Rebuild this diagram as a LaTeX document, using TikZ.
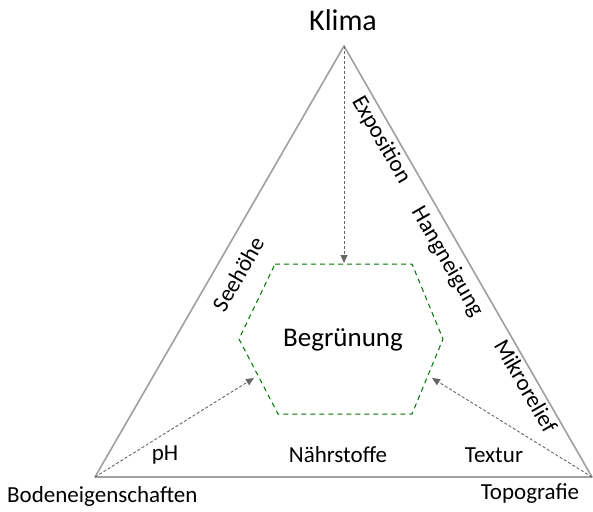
\documentclass[tikz,border=0pt]{standalone}
\usepackage{fontspec}
\setmainfont{Carlito}
\usetikzlibrary{arrows.meta}
\begin{document}
\begin{tikzpicture}[x=1pt,y=-1pt,
  side/.style={draw=gray!75,line width=1.6pt,line join=round},
  hexa/.style={draw=green!45!black,line width=1pt,dash pattern=on 5pt off 4pt},
  infl/.style={draw=gray!80!black,line width=0.9pt,dash pattern=on 3pt off 2pt,-{Triangle[length=8pt,width=7pt]}},
  lbl/.style={font=\fontsize{23}{25}\selectfont,inner sep=0pt},
  big/.style={font=\fontsize{27}{30}\selectfont,inner sep=0pt}]
\useasboundingbox (0,0) rectangle (593,511);
\coordinate (A) at (344,46);
\coordinate (L) at (95,477);
\coordinate (R) at (592,477);
\draw[side] (A) -- (L) -- (R) -- cycle;
\coordinate (h1) at (275,264);
\coordinate (h2) at (412,264);
\coordinate (h3) at (443,339);
\coordinate (h4) at (412,414);
\coordinate (h5) at (278,414);
\coordinate (h6) at (239,339);
\draw[hexa] (h1) -- (h2) -- (h3) -- (h4) -- (h5) -- (h6) -- cycle;
\node[big] (beg) at (343,340) {Begrünung};
\coordinate (t1) at (344,263);
\coordinate (t2) at (254,378);
\coordinate (t3) at (432,378);
\draw[infl] (A) -- (t1);
\draw[infl] (L) -- (t2);
\draw[infl] (R) -- (t3);
\node[font=\fontsize{30}{32}\selectfont,inner sep=0pt] (klima) at (343,20) {Klima};
\node[lbl,anchor=west] (bod) at (7,496) {Bodeneigenschaften};
\node[lbl] (topo) at (530,494) {Topografie};
\node[lbl] (ph) at (165,455) {pH};
\node[lbl] (nae) at (338,455) {Nährstoffe};
\node[lbl] (tex) at (494,455) {Textur};
\node[lbl,rotate=60] (see) at (238,274) {Seehöhe};
\node[lbl,rotate=-60] (exp) at (381,140) {Exposition};
\node[lbl,rotate=-60] (hang) at (447,262) {Hangneigung};
\node[lbl,rotate=-60] (mik) at (526,386) {Mikrorelief};
\end{tikzpicture}
\end{document}
